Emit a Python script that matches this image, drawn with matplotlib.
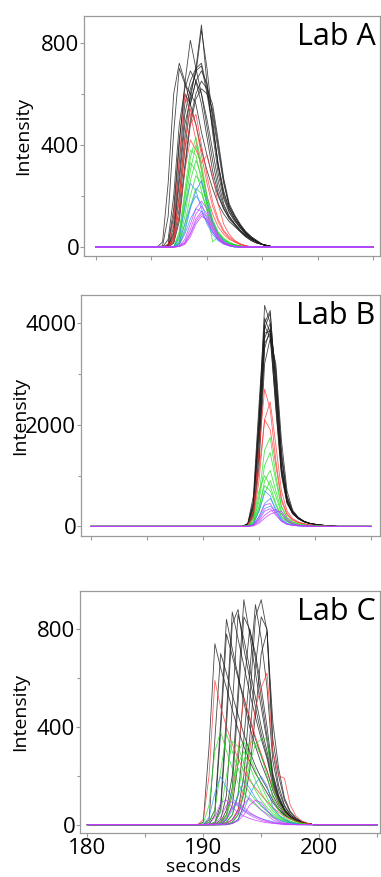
import numpy as np
import matplotlib
matplotlib.use("Agg")
import matplotlib.pyplot as plt
from matplotlib.ticker import MultipleLocator

plt.rcParams['font.family'] = ['Open Sans', 'DejaVu Sans']

# full time axis (s) and the window where each lab's peak sits
t_full = np.arange(180.0, 205.01, 0.5)
win_a = np.arange(185.5, 195.51, 0.5)
win_b = np.arange(193.5, 201.51, 0.5)
win_c = np.arange(189.5, 199.51, 0.5)

# ---- Lab A ----
a_black = [
    [0, 20, 250, 600, 720, 650, 560, 480, 380, 300, 230, 170, 130, 100, 80, 60, 40, 25, 15, 10, 5],
    [0, 5, 120, 450, 700, 640, 600, 560, 450, 360, 270, 200, 150, 110, 85, 60, 40, 25, 15, 10, 5],
    [0, 0, 30, 200, 480, 620, 690, 650, 560, 430, 300, 210, 150, 115, 90, 65, 45, 30, 20, 10, 5],
    [0, 0, 10, 120, 400, 640, 810, 700, 600, 470, 340, 230, 160, 120, 90, 65, 45, 30, 20, 10, 5],
    [0, 0, 5, 80, 330, 560, 650, 700, 870, 640, 450, 290, 190, 135, 100, 75, 50, 35, 20, 10, 5],
    [0, 0, 5, 60, 280, 520, 620, 680, 850, 700, 500, 320, 200, 140, 105, 75, 50, 35, 20, 10, 5],
    [0, 0, 5, 50, 250, 480, 580, 700, 720, 620, 480, 320, 210, 150, 110, 80, 55, 35, 20, 10, 5],
    [0, 0, 0, 40, 200, 430, 600, 690, 710, 600, 470, 330, 220, 150, 110, 80, 55, 35, 20, 10, 5],
    [0, 0, 0, 30, 150, 380, 560, 650, 690, 640, 520, 380, 250, 160, 120, 85, 60, 40, 25, 10, 5],
    [0, 0, 0, 20, 120, 320, 500, 600, 650, 620, 560, 420, 270, 170, 125, 90, 60, 40, 25, 10, 5],
    [0, 0, 0, 15, 100, 300, 480, 580, 620, 600, 540, 400, 260, 160, 120, 85, 55, 35, 20, 10, 5],
    [0, 0, 10, 150, 420, 600, 560, 650, 600, 500, 380, 260, 170, 120, 90, 65, 45, 30, 20, 10, 5],
]
a_red = [
    [0, 0, 10, 100, 350, 600, 520, 420, 300, 200, 130, 80, 50, 30, 20, 10, 5, 0, 0, 0, 0],
    [0, 0, 0, 40, 200, 420, 540, 480, 360, 250, 160, 100, 60, 35, 20, 10, 5, 0, 0, 0, 0],
    [0, 0, 0, 20, 120, 300, 420, 380, 330, 360, 280, 170, 90, 50, 25, 12, 5, 0, 0, 0, 0],
    [0, 0, 0, 30, 180, 380, 480, 520, 400, 280, 180, 110, 65, 40, 25, 12, 5, 0, 0, 0, 0],
]
a_green = [
    [0, 0, 0, 0, 40, 180, 350, 430, 330, 200, 110, 60, 35, 20, 10, 5, 0, 0, 0, 0, 0],
    [0, 0, 0, 0, 60, 220, 380, 360, 260, 160, 90, 50, 30, 15, 8, 4, 0, 0, 0, 0, 0],
    [0, 0, 0, 0, 30, 150, 300, 400, 310, 190, 100, 55, 30, 15, 8, 4, 0, 0, 0, 0, 0],
    [0, 0, 0, 0, 20, 120, 260, 340, 280, 170, 95, 50, 28, 15, 8, 4, 0, 0, 0, 0, 0],
    [0, 0, 0, 0, 50, 200, 330, 300, 220, 140, 80, 45, 25, 12, 6, 3, 0, 0, 0, 0, 0],
    [0, 0, 0, 0, 15, 90, 200, 280, 250, 170, 100, 55, 30, 15, 8, 4, 0, 0, 0, 0, 0],
    [0, 0, 0, 0, 10, 70, 160, 230, 210, 150, 20, 40, 20, 10, 5, 2, 0, 0, 0, 0, 0],
]
a_blue = [
    [0, 0, 0, 0, 40, 160, 250, 220, 150, 90, 50, 25, 12, 5, 0, 0, 0, 0, 0, 0, 0],
    [0, 0, 0, 0, 10, 60, 150, 220, 260, 180, 100, 50, 25, 10, 5, 0, 0, 0, 0, 0, 0],
    [0, 0, 0, 0, 20, 90, 160, 200, 170, 110, 60, 30, 15, 5, 0, 0, 0, 0, 0, 0, 0],
    [0, 0, 0, 0, 10, 50, 110, 150, 140, 100, 60, 30, 15, 5, 0, 0, 0, 0, 0, 0, 0],
]
a_magenta = [
    [0, 0, 0, 0, 5, 30, 90, 150, 180, 150, 90, 45, 20, 8, 3, 0, 0, 0, 0, 0, 0],
    [0, 0, 0, 0, 3, 20, 70, 130, 160, 130, 80, 40, 18, 8, 3, 0, 0, 0, 0, 0, 0],
    [0, 0, 0, 0, 3, 15, 55, 110, 140, 120, 75, 35, 15, 6, 2, 0, 0, 0, 0, 0, 0],
    [0, 0, 0, 0, 2, 10, 40, 90, 120, 110, 70, 35, 15, 6, 2, 0, 0, 0, 0, 0, 0],
    [0, 0, 0, 0, 2, 15, 50, 100, 130, 100, 60, 30, 12, 5, 2, 0, 0, 0, 0, 0, 0],
]

# ---- Lab B ----
b_black = [
    [0, 60, 600, 2400, 4100, 3800, 2300, 1000, 450, 250, 150, 90, 60, 40, 25, 15, 5],
    [0, 40, 450, 2100, 4350, 4000, 2500, 1100, 480, 260, 160, 95, 60, 40, 25, 15, 5],
    [0, 30, 350, 1800, 3900, 4200, 2800, 1200, 500, 270, 160, 95, 60, 40, 25, 15, 5],
    [0, 20, 300, 1600, 3700, 4000, 3000, 1350, 550, 280, 170, 100, 60, 40, 25, 15, 5],
    [0, 50, 500, 2200, 3950, 3700, 2400, 1050, 470, 250, 150, 90, 55, 35, 20, 10, 5],
    [0, 20, 250, 1400, 3500, 3900, 3100, 1500, 600, 300, 170, 100, 60, 40, 25, 15, 5],
    [0, 40, 420, 2000, 3800, 3850, 2600, 1150, 500, 260, 160, 95, 60, 40, 25, 15, 5],
    [0, 10, 200, 1200, 3200, 3700, 3200, 1700, 700, 320, 180, 105, 60, 40, 25, 15, 5],
    [0, 30, 380, 1900, 4000, 4250, 2700, 1150, 500, 260, 160, 95, 60, 40, 25, 15, 5],
    [0, 15, 280, 1500, 3600, 3800, 2900, 1400, 580, 290, 170, 100, 60, 40, 25, 15, 5],
]
b_red = [
    [0, 20, 300, 1500, 2700, 2300, 1300, 550, 250, 130, 80, 50, 30, 20, 10, 5, 0],
    [0, 10, 150, 900, 2100, 2450, 1600, 700, 300, 150, 90, 55, 30, 20, 10, 5, 0],
    [0, 10, 200, 1100, 2100, 1900, 1200, 500, 230, 120, 70, 45, 25, 15, 8, 4, 0],
]
b_green = [
    [0, 5, 100, 600, 1500, 1750, 1000, 400, 180, 90, 50, 30, 15, 8, 4, 2, 0],
    [0, 5, 80, 500, 1200, 1450, 900, 380, 170, 85, 50, 30, 15, 8, 4, 2, 0],
    [0, 10, 150, 700, 1000, 800, 450, 200, 100, 50, 30, 15, 8, 4, 2, 0, 0],
    [0, 5, 80, 400, 800, 700, 420, 180, 90, 45, 25, 15, 8, 4, 2, 0, 0],
    [0, 3, 50, 300, 650, 900, 600, 250, 110, 55, 30, 15, 8, 4, 2, 0, 0],
    [0, 5, 60, 350, 900, 1100, 700, 300, 130, 65, 35, 20, 10, 5, 2, 0, 0],
]
b_blue = [
    [0, 3, 50, 300, 700, 600, 300, 120, 50, 25, 12, 6, 3, 0, 0, 0, 0],
    [0, 2, 30, 200, 450, 550, 350, 150, 60, 30, 15, 8, 4, 0, 0, 0, 0],
    [0, 2, 20, 150, 350, 400, 300, 130, 50, 25, 12, 6, 3, 0, 0, 0, 0],
]
b_magenta = [
    [0, 2, 30, 180, 420, 450, 250, 100, 40, 20, 10, 5, 2, 0, 0, 0, 0],
    [0, 1, 15, 90, 220, 300, 330, 250, 110, 50, 25, 12, 5, 2, 0, 0, 0],
    [0, 1, 10, 60, 160, 240, 280, 300, 150, 60, 25, 12, 5, 2, 0, 0, 0],
    [0, 1, 20, 120, 300, 350, 220, 100, 40, 20, 10, 5, 2, 0, 0, 0, 0],
]

# ---- Lab C ----
c_black = [
    [0, 10, 320, 740, 640, 560, 470, 390, 320, 260, 210, 170, 130, 90, 60, 40, 25, 15, 8, 4, 0],
    [0, 0, 20, 350, 700, 620, 530, 450, 370, 300, 240, 190, 150, 100, 65, 40, 25, 15, 8, 4, 0],
    [0, 0, 10, 60, 420, 840, 720, 610, 500, 400, 320, 250, 190, 120, 75, 45, 28, 15, 8, 4, 0],
    [0, 0, 0, 40, 380, 780, 690, 600, 520, 430, 350, 280, 220, 140, 85, 50, 30, 16, 8, 4, 0],
    [0, 0, 0, 10, 80, 450, 870, 760, 650, 540, 440, 350, 270, 160, 95, 55, 30, 16, 8, 4, 0],
    [0, 0, 0, 5, 60, 400, 820, 880, 720, 600, 480, 370, 280, 170, 100, 55, 30, 16, 8, 4, 0],
    [0, 0, 0, 0, 20, 120, 480, 860, 760, 640, 520, 400, 300, 180, 105, 58, 32, 17, 8, 4, 0],
    [0, 0, 0, 0, 10, 60, 200, 550, 920, 780, 620, 480, 340, 190, 110, 60, 32, 17, 8, 4, 0],
    [0, 0, 0, 0, 5, 40, 150, 500, 850, 800, 680, 520, 360, 200, 115, 62, 33, 17, 8, 4, 0],
    [0, 0, 0, 0, 0, 20, 80, 250, 560, 800, 700, 560, 400, 210, 120, 65, 35, 18, 9, 4, 0],
    [0, 0, 0, 0, 0, 10, 40, 120, 350, 620, 900, 760, 560, 260, 140, 75, 40, 20, 10, 5, 0],
    [0, 0, 0, 0, 0, 5, 20, 60, 200, 500, 850, 920, 790, 300, 160, 80, 42, 22, 10, 5, 0],
    [0, 0, 0, 0, 0, 0, 10, 40, 130, 350, 650, 850, 800, 350, 200, 100, 50, 25, 12, 5, 0],
    [0, 0, 0, 0, 0, 0, 5, 20, 80, 220, 450, 700, 790, 420, 230, 110, 55, 28, 12, 5, 0],
]
c_red = [
    [0, 20, 200, 590, 480, 400, 330, 270, 220, 180, 150, 120, 95, 70, 50, 35, 22, 12, 6, 3, 0],
    [0, 0, 0, 0, 10, 40, 120, 300, 520, 440, 360, 290, 220, 150, 90, 50, 28, 15, 7, 3, 0],
    [0, 0, 0, 0, 0, 5, 20, 60, 150, 300, 480, 560, 620, 300, 200, 190, 80, 35, 15, 6, 0],
]
c_green = [
    [0, 5, 80, 300, 380, 300, 230, 170, 130, 100, 80, 60, 45, 30, 20, 12, 7, 4, 2, 0, 0],
    [0, 0, 10, 60, 220, 370, 300, 230, 170, 130, 100, 75, 55, 38, 25, 15, 8, 4, 2, 0, 0],
    [0, 0, 0, 10, 50, 200, 340, 320, 250, 190, 140, 100, 70, 45, 30, 18, 10, 5, 2, 0, 0],
    [0, 0, 0, 0, 10, 40, 150, 300, 340, 280, 220, 160, 110, 65, 40, 24, 12, 6, 3, 0, 0],
    [0, 0, 0, 0, 0, 10, 40, 130, 260, 340, 330, 280, 200, 110, 60, 30, 15, 7, 3, 0, 0],
    [0, 0, 0, 0, 0, 0, 10, 40, 120, 250, 330, 350, 350, 150, 90, 50, 25, 12, 5, 2, 0],
    [0, 0, 0, 0, 5, 30, 120, 250, 300, 240, 180, 130, 90, 55, 35, 20, 10, 5, 2, 0, 0],
]
c_blue = [
    [0, 0, 30, 130, 197, 150, 110, 80, 60, 45, 35, 25, 18, 12, 8, 5, 3, 0, 0, 0, 0],
    [0, 0, 0, 0, 5, 20, 60, 120, 180, 150, 110, 80, 55, 35, 20, 12, 6, 3, 0, 0, 0],
    [0, 0, 0, 0, 0, 0, 5, 20, 60, 120, 170, 197, 160, 70, 40, 22, 10, 5, 0, 0, 0],
]
c_magenta = [
    [0, 0, 5, 30, 90, 100, 70, 50, 35, 25, 18, 12, 8, 5, 3, 0, 0, 0, 0, 0, 0],
    [0, 0, 0, 5, 30, 80, 95, 75, 55, 40, 28, 18, 12, 7, 4, 2, 0, 0, 0, 0, 0],
    [0, 0, 0, 0, 5, 25, 70, 90, 70, 50, 35, 24, 15, 9, 5, 2, 0, 0, 0, 0, 0],
    [0, 0, 0, 0, 0, 5, 20, 50, 85, 109, 85, 60, 40, 20, 10, 5, 2, 0, 0, 0, 0],
    [0, 0, 0, 0, 0, 0, 5, 15, 40, 80, 100, 90, 60, 30, 15, 7, 3, 0, 0, 0, 0],
]

colours = ['#1a1a1a', '#ff3b3b', '#22e022', '#3a8cff', '#c53cff']

labs = [
    ("Lab A", win_a, [a_black, a_red, a_green, a_blue, a_magenta],
     [0.2205, 0.7081, 0.777, 0.2737], (178.92, 205.59), (-35, 905), 400, 23),
    ("Lab B", win_b, [b_black, b_red, b_green, b_blue, b_magenta],
     [0.2126, 0.3888, 0.7848, 0.2748], (179.11, 205.8), (-190, 4553), 2000, 20),
    ("Lab C", win_c, [c_black, c_red, c_green, c_blue, c_magenta],
     [0.2100, 0.0502, 0.787, 0.2760], (179.37, 205.23), (-34, 956), 400, 20),
]

W, H = 381, 877
fig = plt.figure(figsize=(W / 100, H / 100), dpi=100)
spine_col = '#9a9a9a'

for k, (name, win, groups, pos, xl, yl, ystep, lab_x) in enumerate(labs):
    ax = fig.add_axes(pos)
    for grp, col in zip(groups, colours):
        for tr in grp:
            y = np.zeros_like(t_full)
            i0 = int(round((win[0] - 180.0) / 0.5))
            y[i0:i0 + len(tr)] = tr
            ax.plot(t_full, y, color=col, lw=0.6, alpha=0.8)
    ax.set_xlim(*xl)
    ax.set_ylim(*yl)
    ax.xaxis.set_major_locator(MultipleLocator(5))
    ax.yaxis.set_major_locator(MultipleLocator(ystep))
    ax.yaxis.set_minor_locator(MultipleLocator(ystep / 2))
    for s in ax.spines.values():
        s.set_color(spine_col)
        s.set_linewidth(0.9)
    ax.tick_params(axis='both', which='both', colors=spine_col, labelcolor='black',
                   labelsize=16, length=3, width=0.8, pad=0.5)
    ax.tick_params(axis='y', which='minor', length=2.5)
    if k < 2:
        ax.set_xticklabels([])
    else:
        ax.set_xticks([180, 185, 190, 195, 200, 205])
        ax.set_xticklabels(['180', '', '190', '', '200', ''])
    ax.text(0.985, 0.975, name, transform=ax.transAxes, ha='right', va='top',
            fontsize=22)
    yc = pos[1] + pos[3] / 2
    fig.text(lab_x / W, yc, "Intensity", rotation=90, ha='center', va='center',
             fontsize=14)

fig.text(0.5 * (87 + 320) / W, 0.5 / H, "seconds", ha='center', va='bottom',
         fontsize=14)

fig.savefig("out.png", dpi=100)
